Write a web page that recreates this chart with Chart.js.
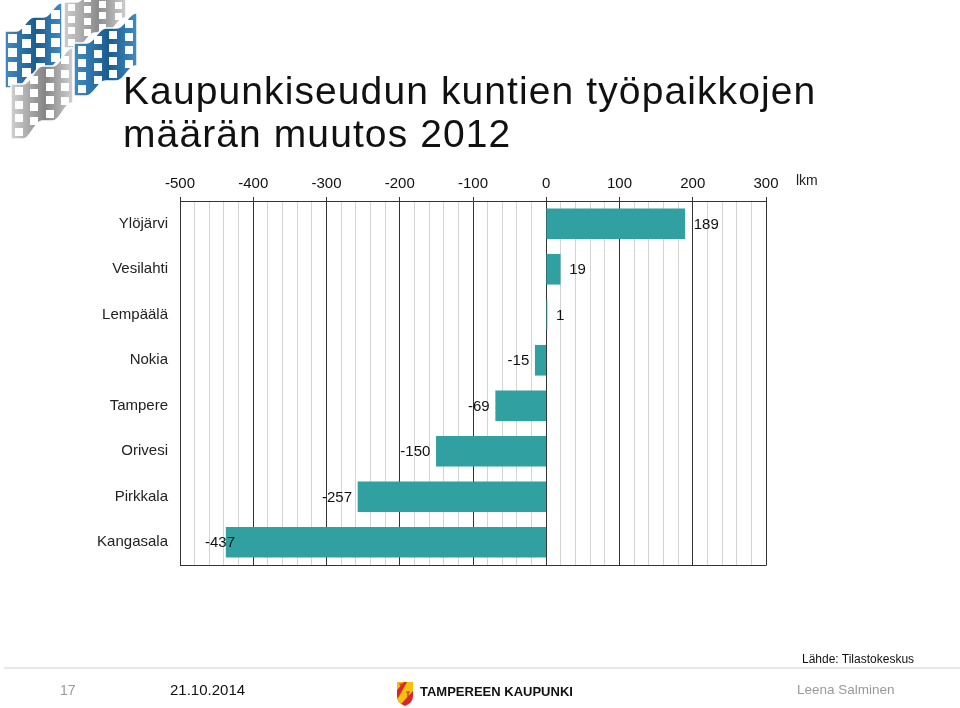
<!DOCTYPE html>
<html lang="fi">
<head>
<meta charset="UTF-8">
<title>Kaupunkiseudun kuntien työpaikkojen määrän muutos 2012</title>
<script src="https://cdn.jsdelivr.net/npm/chart.js"></script>
<style>
    html, body {
        margin: 0;
        padding: 0;
        background: #fff;
        font-family: "Liberation Sans", Arial, sans-serif;
    }
    #page {
        position: relative;
        width: 960px;
        height: 708px;
        overflow: hidden;
    }
    #chart { position: absolute; left: 0; top: 0; }
    #logo { position: absolute; left: 0; top: 0; }
    .txt { position: absolute; white-space: nowrap; line-height: 1; }
    #title { left: 123px; top: 69px; font-size: 39px; letter-spacing: 1.1px; color: #111; line-height: 43px; }
    #unit { left: 796px; top: 173px; font-size: 14px; color: #222; }
    #source { left: 802px; top: 653px; font-size: 12px; color: #111; }
    #rule { position: absolute; left: 4px; top: 667px; width: 956px; height: 2px; background: #e8e8e8; }
    #pageNo { left: 60px; top: 683px; font-size: 14px; color: #999; }
    #date { left: 170px; top: 682px; font-size: 15px; color: #111; }
    #city { left: 420px; top: 685px; font-size: 13px; font-weight: bold; color: #111; }
    #author { left: 797px; top: 683px; font-size: 13.5px; color: #999; }
    #shield { position: absolute; left: 396px; top: 681px; }
</style>
</head>
<body>
<div id="page">
    <canvas id="chart" width="960" height="708"></canvas>
    <canvas id="logo" width="140" height="145"></canvas>
    <div class="txt" id="title">Kaupunkiseudun kuntien työpaikkojen<br>määrän muutos 2012</div>
    <div class="txt" id="unit">lkm</div>
    <div class="txt" id="source">Lähde: Tilastokeskus</div>
    <div id="rule"></div>
    <div class="txt" id="pageNo">17</div>
    <div class="txt" id="date">21.10.2014</div>
    <svg id="shield" width="18" height="26" viewBox="0 0 18 26">
        <path d="M1 1 H17 V15 Q17 22 9 25 Q1 22 1 15 Z" fill="#d9262c"/>
        <path d="M1 1 H8 L1 9 Z" fill="#f4c20d"/>
        <path d="M11 1 H17 V10 L5 23 Q2 21 1.5 18 Z" fill="#f4c20d"/>
        <path d="M3 3 H7 M5 3 V8" stroke="#d9262c" stroke-width="1.2"/>
        <path d="M10 11 H14 M12 11 V16" stroke="#d9262c" stroke-width="1.2"/>
    </svg>
    <div class="txt" id="city">TAMPEREEN KAUPUNKI</div>
    <div class="txt" id="author">Leena Salminen</div>
</div>

<script>
    // data
    const categories = ['Ylöjärvi', 'Vesilahti', 'Lempäälä', 'Nokia', 'Tampere', 'Orivesi', 'Pirkkala', 'Kangasala'];
    const values = [189, 19, 1, -15, -69, -150, -257, -437];
    const axisMin = -500;
    const axisMax = 300;
    const majorStep = 100;
    const minorStep = 20;

    const FONT = '"Liberation Sans", Arial, sans-serif';
    const BAR_COLOR = '#30a0a0';

    const isMajor = v => v % majorStep === 0;

    // value labels next to bar ends
    const valueLabels = {
        id: 'valueLabels',
        afterDatasetsDraw(chart) {
            const ctx = chart.ctx;
            const area = chart.chartArea;
            const meta = chart.getDatasetMeta(0);
            ctx.save();
            ctx.font = '15px ' + FONT;
            ctx.fillStyle = '#111';
            ctx.textBaseline = 'middle';
            ctx.textAlign = 'left';
            meta.data.forEach((bar, i) => {
                const v = values[i];
                const text = String(v);
                const y = bar.y + 1;
                if (v >= 0) {
                    ctx.fillText(text, bar.x + 9, y);
                } else {
                    const w = ctx.measureText(text).width;
                    let left = bar.x - 6 - w;
                    if (left < area.left + 25) left = area.left + 25;
                    ctx.fillText(text, left, y);
                }
            });
            ctx.restore();
        }
    };

    // bottom frame line
    const frame = {
        id: 'frame',
        afterDraw(chart) {
            const ctx = chart.ctx;
            const a = chart.chartArea;
            ctx.save();
            ctx.strokeStyle = '#333';
            ctx.lineWidth = 1;
            ctx.beginPath();
            ctx.moveTo(a.left, Math.round(a.bottom) + 0.5);
            ctx.lineTo(a.right + 0.5, Math.round(a.bottom) + 0.5);
            ctx.stroke();
            ctx.restore();
        }
    };

    new Chart(document.getElementById('chart'), {
        type: 'bar',
        data: {
            labels: categories,
            datasets: [{
                data: values,
                backgroundColor: BAR_COLOR,
                borderWidth: 0,
                barThickness: 30
            }]
        },
        options: {
            indexAxis: 'y',
            responsive: false,
            animation: false,
            layout: { padding: { left: 0, top: 0, right: 194, bottom: 143 } },
            plugins: {
                legend: { display: false },
                tooltip: { enabled: false }
            },
            scales: {
                x: {
                    position: 'top',
                    min: axisMin,
                    max: axisMax,
                    afterFit: s => { s.height = 201; },
                    ticks: {
                        stepSize: minorStep,
                        autoSkip: false,
                        maxTicksLimit: 1000,
                        maxRotation: 0,
                        padding: 4,
                        color: '#111',
                        font: { family: FONT, size: 15 },
                        callback: v => isMajor(v) ? String(v) : ''
                    },
                    grid: {
                        color: c => (c.tick && isMajor(c.tick.value)) ? '#333' : '#d4d4d4',
                        tickColor: c => (c.tick && isMajor(c.tick.value)) ? '#333' : 'rgba(0,0,0,0)',
                        tickLength: 4,
                        lineWidth: 1
                    },
                    border: { color: '#333' }
                },
                y: {
                    afterFit: s => { s.width = 180; },
                    grid: { display: false },
                    border: { display: true, color: '#333' },
                    ticks: {
                        padding: 4,
                        color: '#222',
                        font: { family: FONT, size: 15 }
                    }
                }
            }
        },
        plugins: [valueLabels, frame]
    });

    // the wavy flag logo in the top left corner
    const ss = t => { t = Math.max(0, Math.min(1, t)); return t * t * (3 - 2 * t); };

    function drawFlag(ctx, x0, yL, w, h, rise, c1, c2) {
        // two-step wave along the top and bottom edges
        const f = u => yL - rise * (0.5 * ss((u - 0.2) / 0.3) + 0.5 * ss((u - 0.68) / 0.3));
        const grad = ctx.createLinearGradient(x0, 0, x0 + w, 0);
        grad.addColorStop(0, c2);
        grad.addColorStop(0.55, c1);
        grad.addColorStop(1, c2);
        ctx.beginPath();
        for (let i = 0; i <= 30; i++) { const u = i / 30; ctx.lineTo(x0 + u * w, f(u)); }
        for (let i = 30; i >= 0; i--) { const u = i / 30; ctx.lineTo(x0 + u * w, f(u) + h); }
        ctx.closePath();
        ctx.fillStyle = grad;
        ctx.fill();
        ctx.strokeStyle = '#fff';
        ctx.lineWidth = 1.5;
        ctx.stroke();

        ctx.fillStyle = '#fff';
        const cols = 4, rows = 4;
        const cw = w / cols;
        const rh = h / rows;
        const win = Math.min(cw, rh) * 0.6;
        for (let c = 0; c < cols; c++) {
            const uc = (c + 0.5) / cols;
            const cx = x0 + uc * w;
            for (let r = 0; r < rows; r++) {
                const cy = f(uc) + (r + 0.5) * rh;
                ctx.fillRect(Math.round(cx - win / 2), Math.round(cy - win / 2), Math.round(win), Math.round(win));
            }
        }
    }

    const lg = document.getElementById('logo').getContext('2d');
    drawFlag(lg, 64, 2, 62, 46, 30, '#8c8c8c', '#cdcdcd');
    drawFlag(lg, 5, 31, 57, 57, 28, '#1b5c8e', '#3f8cc4');
    drawFlag(lg, 74, 43, 63, 53, 30, '#1b5c8e', '#3f8cc4');
    drawFlag(lg, 11, 84, 62, 55, 36, '#858585', '#d0d0d0');
</script>
</body>
</html>
